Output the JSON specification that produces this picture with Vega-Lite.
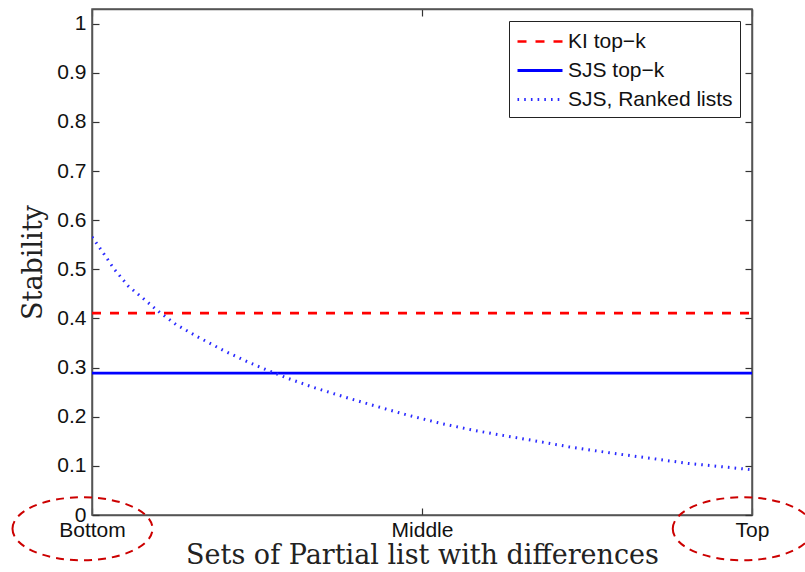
{
  "$schema": "https://vega.github.io/schema/vega-lite/v6.json",
  "width": 660,
  "height": 506,
  "autosize": {"type": "none"},
  "padding": {"left": 92, "top": 9, "right": 53, "bottom": 57},
  "background": "white",
  "config": {
    "view": {"stroke": "#555", "strokeWidth": 1.5},
    "axis": {
      "labelFont": "Liberation Sans",
      "labelFontSize": 21,
      "labelColor": "#111",
      "titleFont": "DejaVu Serif",
      "titleFontSize": 27,
      "titleFontWeight": "normal",
      "titleColor": "#222",
      "domainColor": "#555",
      "domainWidth": 1.5,
      "tickColor": "#333",
      "tickWidth": 1.2,
      "grid": false
    }
  },
  "datasets": {
    "lines": [
      {"series": "KI top−k", "t": 0, "v": 0.411},
      {"series": "KI top−k", "t": 1, "v": 0.411},
      {"series": "SJS top−k", "t": 0, "v": 0.289},
      {"series": "SJS top−k", "t": 1, "v": 0.289},
      {"series": "SJS, Ranked lists", "t": 0, "v": 0.566},
      {"series": "SJS, Ranked lists", "t": 0.01, "v": 0.547},
      {"series": "SJS, Ranked lists", "t": 0.034, "v": 0.5},
      {"series": "SJS, Ranked lists", "t": 0.055, "v": 0.466},
      {"series": "SJS, Ranked lists", "t": 0.087, "v": 0.43},
      {"series": "SJS, Ranked lists", "t": 0.103, "v": 0.412},
      {"series": "SJS, Ranked lists", "t": 0.127, "v": 0.388},
      {"series": "SJS, Ranked lists", "t": 0.161, "v": 0.362},
      {"series": "SJS, Ranked lists", "t": 0.199, "v": 0.335},
      {"series": "SJS, Ranked lists", "t": 0.237, "v": 0.311},
      {"series": "SJS, Ranked lists", "t": 0.267, "v": 0.294},
      {"series": "SJS, Ranked lists", "t": 0.295, "v": 0.279},
      {"series": "SJS, Ranked lists", "t": 0.335, "v": 0.26},
      {"series": "SJS, Ranked lists", "t": 0.388, "v": 0.238},
      {"series": "SJS, Ranked lists", "t": 0.429, "v": 0.222},
      {"series": "SJS, Ranked lists", "t": 0.479, "v": 0.203},
      {"series": "SJS, Ranked lists", "t": 0.53, "v": 0.186},
      {"series": "SJS, Ranked lists", "t": 0.58, "v": 0.172},
      {"series": "SJS, Ranked lists", "t": 0.631, "v": 0.16},
      {"series": "SJS, Ranked lists", "t": 0.671, "v": 0.151},
      {"series": "SJS, Ranked lists", "t": 0.722, "v": 0.139},
      {"series": "SJS, Ranked lists", "t": 0.782, "v": 0.127},
      {"series": "SJS, Ranked lists", "t": 0.843, "v": 0.116},
      {"series": "SJS, Ranked lists", "t": 0.903, "v": 0.105},
      {"series": "SJS, Ranked lists", "t": 0.964, "v": 0.097},
      {"series": "SJS, Ranked lists", "t": 1, "v": 0.092}
    ],
    "marks": [
      {"label": "Bottom", "t": -0.0144, "v": -0.028},
      {"label": "Top", "t": 0.986, "v": -0.028}
    ]
  },
  "resolve": {"axis": {"x": "independent", "y": "independent"}},
  "layer": [
    {
      "data": {"name": "lines"},
      "mark": {"type": "line", "clip": true},
      "encoding": {
        "x": {
          "field": "t", "type": "quantitative",
          "scale": {"domain": [0, 1], "nice": false, "zero": false},
          "axis": {
            "values": [0, 0.5, 1],
            "labelExpr": "datum.value == 0 ? 'Bottom' : datum.value == 0.5 ? 'Middle' : 'Top'",
            "labelFlush": false,
            "labelOverlap": false,
            "tickSize": -7,
            "labelPadding": 11,
            "title": "Sets of Partial list with differences",
            "titlePadding": 2
          }
        },
        "y": {
          "field": "v", "type": "quantitative",
          "scale": {"domain": [0, 1.03], "nice": false, "zero": false},
          "axis": {
            "values": [0, 0.1, 0.2, 0.3, 0.4, 0.5, 0.6, 0.7, 0.8, 0.9, 1],
            "format": ".1~f",
            "labelFlush": false,
            "labelOverlap": false,
            "tickSize": -7,
            "labelPadding": 13,
            "title": "Stability",
            "titlePadding": 9
          }
        },
        "color": {
          "field": "series", "type": "nominal",
          "scale": {"domain": ["KI top−k", "SJS top−k", "SJS, Ranked lists"], "range": ["#ff0000", "#0000ff", "#2a2aff"]},
          "legend": {
            "title": null,
            "orient": "top-right",
            "offset": 12,
            "symbolType": "M -1 0 L 2.75 0",
            "symbolSize": 576,
            "labelFont": "Liberation Sans",
            "labelFontSize": 21,
            "labelColor": "#111",
            "labelOffset": 25,
            "strokeColor": "#222",
            "fillColor": "white",
            "padding": 7,
            "rowPadding": 5,
            "labelLimit": 300
          }
        },
        "strokeDash": {
          "field": "series", "type": "nominal",
          "scale": {"domain": ["KI top−k", "SJS top−k", "SJS, Ranked lists"], "range": [[9, 9], [1, 0], [1.6, 5.1]]},
          "legend": {"title": null}
        },
        "strokeWidth": {
          "field": "series", "type": "nominal",
          "scale": {"domain": ["KI top−k", "SJS top−k", "SJS, Ranked lists"], "range": [2.6, 3, 1.4]},
          "legend": {"title": null}
        }
      }
    },
    {
      "data": {"name": "marks"},
      "mark": {
        "type": "point",
        "shape": "M -1 0 C -1 -0.249 -0.552 -0.45 0 -0.45 C 0.552 -0.45 1 -0.249 1 0 C 1 0.249 0.552 0.45 0 0.45 C -0.552 0.45 -1 0.249 -1 0 Z",
        "size": 19600,
        "filled": false,
        "stroke": "#cc0000",
        "strokeWidth": 2,
        "strokeDash": [8, 6],
        "opacity": 1
      },
      "encoding": {
        "x": {
          "field": "t", "type": "quantitative",
          "scale": {"domain": [0, 1], "nice": false, "zero": false},
          "axis": {"orient": "top", "values": [0, 0.5, 1], "labels": false, "tickSize": -7, "title": null}
        },
        "y": {
          "field": "v", "type": "quantitative",
          "scale": {"domain": [0, 1.03], "nice": false, "zero": false},
          "axis": {"orient": "right", "values": [0, 0.1, 0.2, 0.3, 0.4, 0.5, 0.6, 0.7, 0.8, 0.9, 1], "labels": false, "tickSize": -7, "title": null}
        }
      }
    }
  ]
}
